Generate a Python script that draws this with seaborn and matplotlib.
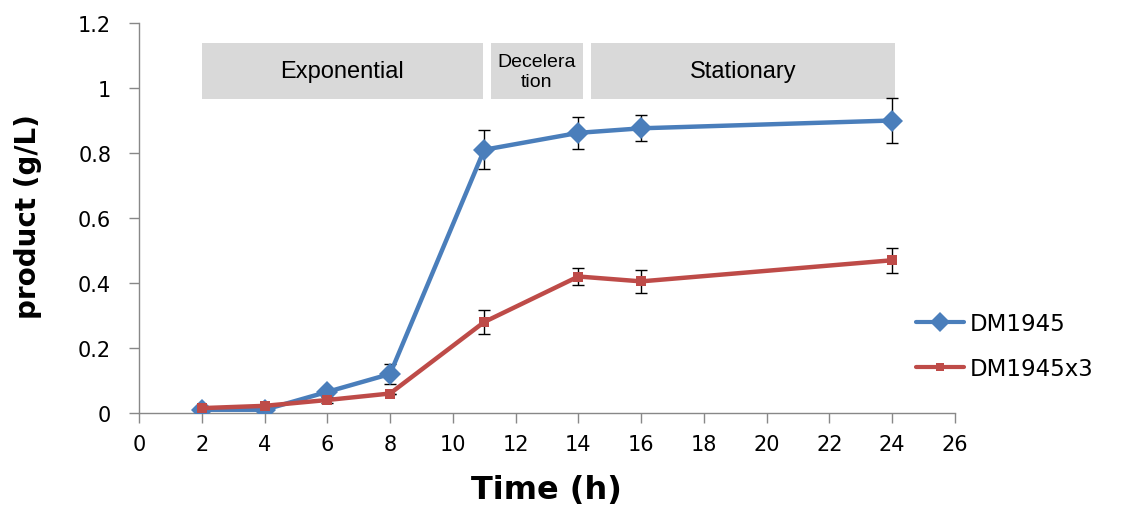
import matplotlib
matplotlib.use("Agg")
import matplotlib.pyplot as plt
import seaborn as sns
import pandas as pd
import numpy as np
from matplotlib.lines import Line2D

time_h = [2, 4, 6, 8, 11, 14, 16, 24]
dm1945 = [0.01, 0.01, 0.065, 0.12, 0.81, 0.862, 0.876, 0.90]
dm1945_err = [0.0, 0.0, 0.0, 0.03, 0.06, 0.05, 0.04, 0.068]
dm1945x3 = [0.015, 0.022, 0.04, 0.06, 0.28, 0.42, 0.405, 0.47]
dm1945x3_err = [0.0, 0.0, 0.01, 0.0, 0.036, 0.027, 0.036, 0.038]
series_names = ["DM1945", "DM1945x3"]
colors = ["#4a7ebb", "#be4b48"]
phase_labels = ["Exponential", "Decelera\ntion", "Stationary"]
phase_starts = [2.0, 11.2, 14.4]
phase_ends = [10.95, 14.15, 24.1]

sns.set_theme(style="white")
plt.rcParams['font.family'] = ['DejaVu Sans']
plt.rcParams['text.color'] = 'black'
plt.rcParams['axes.labelcolor'] = 'black'

df = pd.DataFrame({
    "Time": time_h * 2,
    "product": dm1945 + dm1945x3,
    "err": dm1945_err + dm1945x3_err,
    "series": [series_names[0]] * len(time_h) + [series_names[1]] * len(time_h),
})

fig = plt.figure(figsize=(11.35, 5.06), dpi=100)
ax = fig.add_axes([139/1135, 1 - 414/506, (955-139)/1135, (414-24)/506])

for name in series_names:
    sub = df[df.series == name]
    ax.errorbar(sub.Time, sub["product"], yerr=sub.err, fmt="none",
                ecolor="black", elinewidth=1, capsize=4, capthick=1, zorder=2)

sns.lineplot(data=df, x="Time", y="product", hue="series", style="series",
             palette=colors, markers={"DM1945": "D", "DM1945x3": "s"},
             dashes=False, linewidth=3.2, markersize=11, markeredgewidth=0,
             ax=ax, zorder=3, legend=False)
for ln in ax.get_lines():
    if ln.get_marker() == "s":
        ln.set_markersize(7)

for lab, s, e in zip(phase_labels, phase_starts, phase_ends):
    ax.add_patch(plt.Rectangle((s, 0.965), e - s, 1.137 - 0.965,
                               facecolor="#d9d9d9", edgecolor="none", zorder=1))
    fs = 14 if "\n" in lab else 17
    ax.text((s + e) / 2, (0.965 + 1.137) / 2, lab, ha="center", va="center",
            fontsize=fs, family="Liberation Sans", color="black", zorder=2,
            linespacing=1.25)

ax.set_xlim(0, 26)
ax.set_ylim(0, 1.2)
ax.set_xticks(range(0, 27, 2))
ax.set_yticks([0, 0.2, 0.4, 0.6, 0.8, 1.0, 1.2])
ax.set_yticklabels(["0", "0.2", "0.4", "0.6", "0.8", "1", "1.2"])
ax.tick_params(axis="both", labelsize=15, colors="#888888", labelcolor="black",
               direction="out", length=7, width=1, left=True, bottom=True)
ax.tick_params(axis="y", pad=13)
ax.tick_params(axis="x", pad=8)
for sp in ["top", "right"]:
    ax.spines[sp].set_visible(False)
for sp in ["left", "bottom"]:
    ax.spines[sp].set_color("#888888")
    ax.spines[sp].set_linewidth(1)

ax.set_xlabel("Time (h)", fontsize=23, fontweight="bold")
ax.set_ylabel("product (g/L)", fontsize=20, fontweight="bold")
ax.xaxis.set_label_coords((546-139)/816, (414-490)/390)
ax.yaxis.set_label_coords((28-139)/816, (414-217)/390)
ax.xaxis.label.set_va("center")
ax.yaxis.label.set_va("center")

handles = [
    Line2D([], [], color=colors[0], marker="D", markersize=10, linewidth=3, markeredgewidth=0),
    Line2D([], [], color=colors[1], marker="s", markersize=6, linewidth=3, markeredgewidth=0),
]
fig.legend(handles, series_names, loc="center left",
           bbox_to_anchor=(895/1135, 1 - 347/506), frameon=False,
           fontsize=16.5, handlelength=2.1, labelspacing=1.0, handletextpad=0.25)

fig.savefig("out.png", dpi=100)
